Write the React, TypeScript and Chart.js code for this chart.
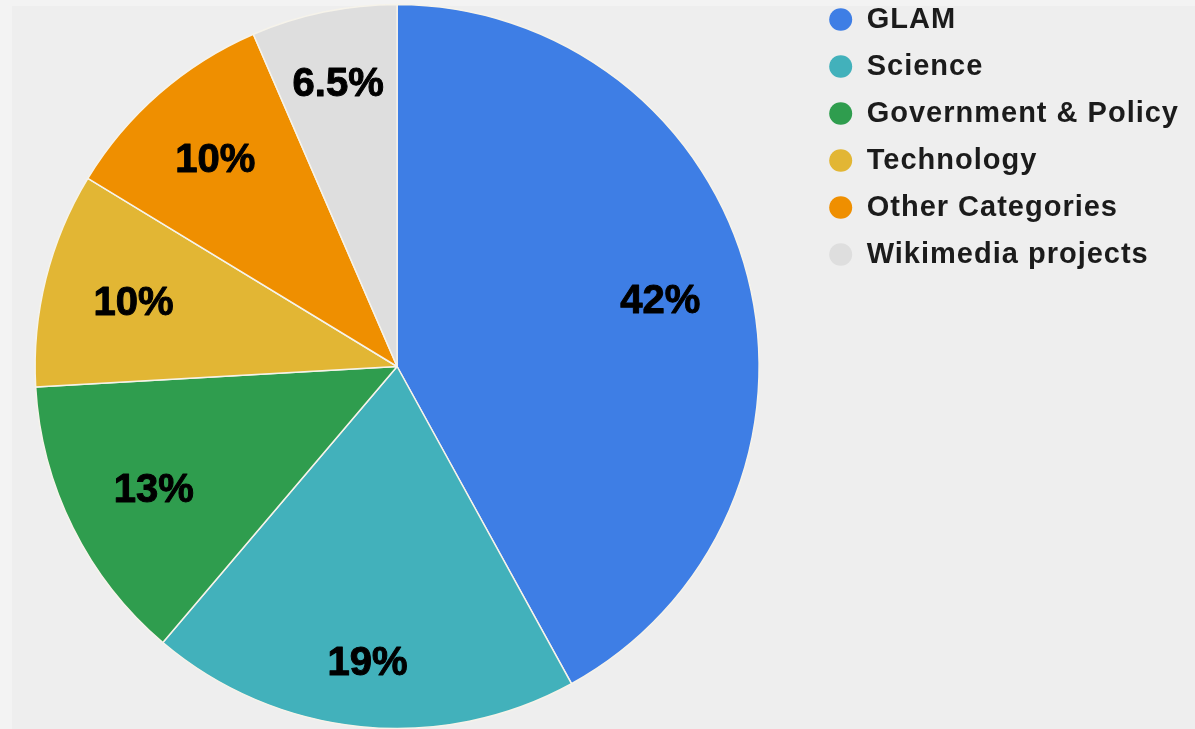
import React, { useEffect, useRef } from "react";
import { Chart, registerables } from "chart.js";

Chart.register(...registerables);

const categories = [
  "GLAM",
  "Science",
  "Government & Policy",
  "Technology",
  "Other Categories",
  "Wikimedia projects",
];
const shares = [42, 19.2, 12.9, 9.6, 9.8, 6.5];
const shareLabels = ["42%", "19%", "13%", "10%", "10%", "6.5%"];
const sliceColors = ["#3e7ee5", "#42b1bb", "#2f9d4e", "#e2b634", "#ef8f00", "#dedede"];

const FONT = '"Liberation Sans", Arial, sans-serif';
const LEGEND_SPACING = "1px";

const legendSpacing = {
  id: "legendSpacing",
  beforeLayout(chart: any) {
    chart.ctx.letterSpacing = LEGEND_SPACING;
  },
  afterLayout(chart: any) {
    chart.ctx.letterSpacing = "0px";
  },
  beforeDraw(chart: any) {
    chart.ctx.letterSpacing = LEGEND_SPACING;
  },
  beforeDatasetsDraw(chart: any) {
    chart.ctx.letterSpacing = "0px";
  },
};

const pctLabels = {
  id: "pctLabels",
  afterDatasetsDraw(chart: any) {
    const ctx = chart.ctx;
    const meta = chart.getDatasetMeta(0);
    ctx.save();
    ctx.letterSpacing = "0px";
    ctx.font = `bold 40px ${FONT}`;
    ctx.fillStyle = "#000";
    ctx.strokeStyle = "#000";
    ctx.lineWidth = 1;
    ctx.lineJoin = "round";
    ctx.textAlign = "center";
    ctx.textBaseline = "alphabetic";
    meta.data.forEach((arc: any, i: number) => {
      const { startAngle, endAngle, outerRadius, x, y } = arc.getProps(
        ["startAngle", "endAngle", "outerRadius", "x", "y"],
        true
      );
      const mid = (startAngle + endAngle) / 2;
      const text = shareLabels[i];
      const hw = ctx.measureText(text).width / 2;
      const hh = (40 * 0.716) / 2;
      const c = Math.cos(mid);
      const s = Math.sin(mid);
      const d = outerRadius - 48 - (hw * Math.abs(c) + hh * Math.abs(s));
      const tx = x + c * d;
      const ty = y + s * d + hh;
      ctx.fillText(text, tx, ty);
      ctx.strokeText(text, tx, ty);
    });
    ctx.restore();
  },
};

export default function App() {
  const ref = useRef<HTMLCanvasElement | null>(null);
  useEffect(() => {
    document.body.style.margin = "0";
    document.body.style.background = "#f3f3f3";
    const chart = new Chart(ref.current as HTMLCanvasElement, {
      type: "pie",
      data: {
        labels: categories,
        datasets: [
          {
            data: shares,
            backgroundColor: sliceColors,
            borderColor: "#f6f3ea",
            borderWidth: 1.5,
            radius: 362,
          } as any,
        ],
      },
      options: {
        animation: false,
        responsive: true,
        maintainAspectRatio: false,
        layout: { padding: { top: -15, bottom: -20, left: 3, right: 6 } },
        plugins: {
          tooltip: { enabled: false },
          legend: {
            position: "right",
            align: "start",
            labels: {
              usePointStyle: true,
              pointStyle: "circle",
              boxHeight: 16,
              pointStyleWidth: 23,
              padding: 18,
              color: "#1b1b1b",
              font: { family: FONT, size: 29, weight: "bold" },
              generateLabels: (c: any) =>
                (Chart as any).overrides.pie.plugins.legend.labels
                  .generateLabels(c)
                  .map((it: any) => ({ ...it, lineWidth: 0, strokeStyle: "rgba(0,0,0,0)" })),
            },
          },
        },
      },
      plugins: [legendSpacing, pctLabels],
    });
    return () => chart.destroy();
  }, []);
  return (
    <div
      style={{
        position: "fixed",
        left: 0,
        top: 0,
        width: 1195,
        height: 729,
        overflow: "hidden",
        background: "#f3f3f3",
      }}
    >
      <div
        style={{
          position: "absolute",
          left: 12,
          top: 6,
          right: 0,
          bottom: 0,
          background: "#eeeeee",
        }}
      />
      <div style={{ position: "absolute", left: -20, top: 2, width: 1215, height: 729 }}>
        <canvas ref={ref} />
      </div>
    </div>
  );
}
